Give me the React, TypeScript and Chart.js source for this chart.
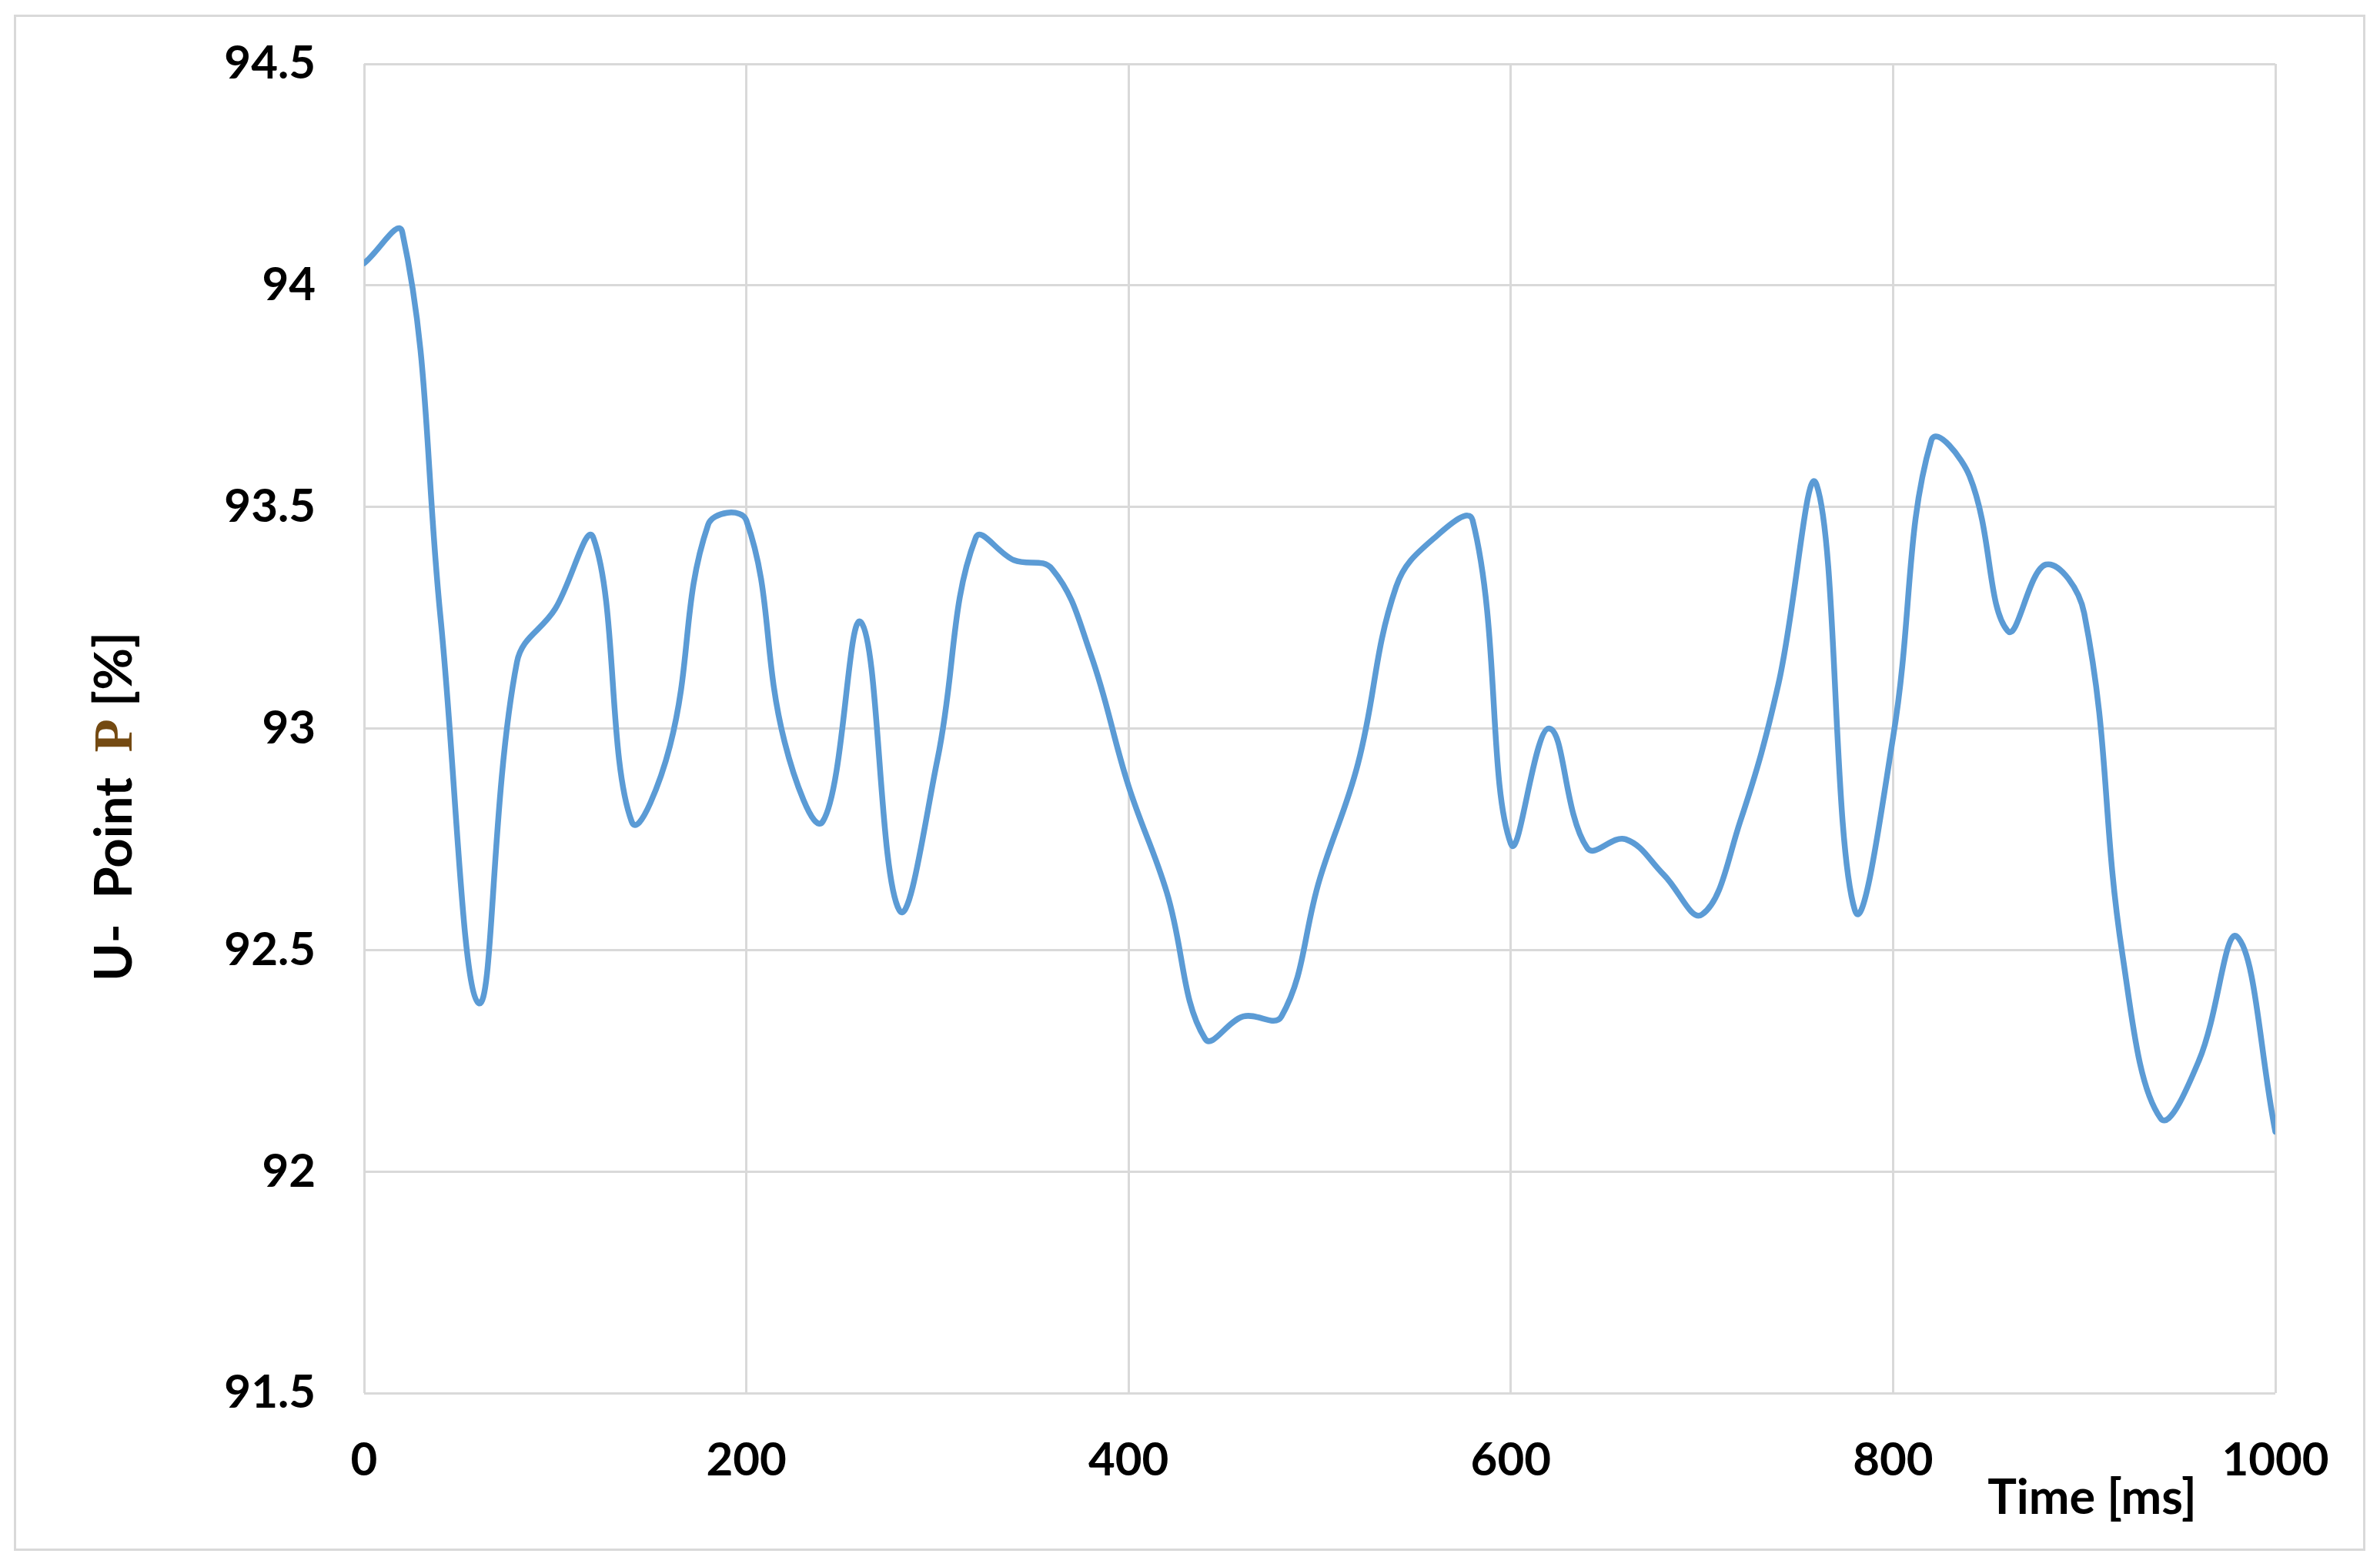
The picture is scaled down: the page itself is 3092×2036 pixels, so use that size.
import React, { useEffect, useRef } from 'react';
import { Chart, registerables } from 'chart.js';

Chart.register(...registerables);

// ---- data ----
const timeMs = [
  0, 20, 40, 60, 80, 100, 120, 140, 160, 180,
  200, 220, 240, 260, 280, 300, 320, 340, 360, 380,
  400, 420, 440, 460, 480, 500, 520, 540, 560, 580,
  600, 620, 640, 660, 680, 700, 720, 740, 760, 780,
  800, 820, 840, 860, 880, 900, 920, 940, 960, 980, 1000,
];
const uPoint = [
  94.05, 94.12, 93.25, 92.38, 93.15, 93.27, 93.43, 92.79, 92.96, 93.46,
  93.47, 92.97, 92.79, 93.24, 92.59, 92.93, 93.43, 93.38, 93.36, 93.17,
  92.87, 92.63, 92.30, 92.35, 92.35, 92.66, 92.92, 93.32, 93.43, 93.47,
  92.74, 93.00, 92.73, 92.75, 92.67, 92.58, 92.79, 93.10, 93.55, 92.59,
  92.98, 93.65, 93.57, 93.22, 93.37, 93.26, 92.49, 92.12, 92.25, 92.53, 92.09,
];
const xTickValues = [0, 200, 400, 600, 800, 1000];
const yTickValues = [91.5, 92, 92.5, 93, 93.5, 94, 94.5];
const yTitleStart = 'U-  Point  ';
const yTitleSymbol = 'P';
const yTitleEnd = ' [%]';
const xTitle = 'Time [ms]';

const W = 3092;
const H = 2036;
const GRID = '#d9d9d9';
const LINE = '#5b9bd5';
const FONT = 'Lato';

const decor = {
  id: 'decor',
  beforeDraw(chart: any) {
    const ctx = chart.ctx;
    ctx.save();
    ctx.fillStyle = '#ffffff';
    ctx.fillRect(0, 0, chart.width, chart.height);
    ctx.strokeStyle = GRID;
    ctx.lineWidth = 3;
    ctx.strokeRect(19.5, 20.5, 3052, 1993);
    ctx.restore();
  },
  afterDraw(chart: any) {
    const ctx = chart.ctx;
    const a = chart.chartArea;
    ctx.save();
    // y-axis title (rotated)
    const sans = `bold 67px ${FONT}`;
    const serif = `bold 71px "Liberation Serif"`;
    ctx.font = sans;
    const w1 = ctx.measureText(yTitleStart).width;
    const w3 = ctx.measureText(yTitleEnd).width;
    ctx.font = serif;
    const w2 = ctx.measureText(yTitleSymbol).width;
    const total = w1 + w2 + w3;
    ctx.translate(a.left - 302, a.top + 965);
    ctx.rotate(-Math.PI / 2);
    ctx.textBaseline = 'alphabetic';
    ctx.textAlign = 'left';
    let x = -total / 2;
    ctx.font = sans;
    ctx.fillStyle = '#000000';
    ctx.fillText(yTitleStart, x, 0);
    x += w1;
    ctx.font = serif;
    ctx.fillStyle = '#744a12';
    ctx.fillText(yTitleSymbol, x, 0);
    x += w2;
    ctx.font = sans;
    ctx.fillStyle = '#000000';
    ctx.fillText(yTitleEnd, x, 0);
    ctx.restore();

    // x-axis title
    ctx.save();
    ctx.font = `bold 63px ${FONT}`;
    ctx.fillStyle = '#000000';
    ctx.textAlign = 'center';
    ctx.textBaseline = 'alphabetic';
    ctx.fillText(xTitle, a.left + 2245, a.bottom + 157);
    ctx.restore();
  },
};

export default function App() {
  const ref = useRef<HTMLCanvasElement>(null);

  useEffect(() => {
    if (!ref.current) return;
    const chart = new Chart(ref.current, {
      type: 'line',
      data: {
        datasets: [
          {
            label: 'U-Point P',
            data: timeMs.map((t, i) => ({ x: t, y: uPoint[i] })),
            borderColor: LINE,
            borderWidth: 7.5,
            pointRadius: 0,
            fill: false,
            tension: 0.4,
            borderCapStyle: 'round',
            borderJoinStyle: 'round',
          },
        ],
      },
      options: {
        animation: false,
        responsive: true,
        maintainAspectRatio: false,
        devicePixelRatio: 1,
        layout: { padding: { left: 0, top: 83, right: 136, bottom: 76 } },
        plugins: {
          legend: { display: false },
          tooltip: { enabled: false },
          title: { display: false },
        },
        scales: {
          x: {
            type: 'linear',
            min: 0,
            max: 1000,
            afterFit: (s: any) => { s.height = 150; },
            afterBuildTicks: (s: any) => { s.ticks = xTickValues.map((v) => ({ value: v })); },
            ticks: {
              callback: (v: any) => String(v),
              font: { family: FONT, size: 60, weight: 'bold' },
              color: '#000000',
              padding: 52,
              maxRotation: 0,
              autoSkip: false,
            },
            grid: { color: GRID, lineWidth: 3, drawTicks: false },
            border: { display: false },
          },
          y: {
            type: 'linear',
            min: 91.5,
            max: 94.5,
            afterFit: (s: any) => {
              s.width = 473;
              s.paddingTop = 0;
              s.paddingBottom = 0;
            },
            afterBuildTicks: (s: any) => { s.ticks = yTickValues.map((v) => ({ value: v })); },
            ticks: {
              callback: (v: any) => String(v),
              font: { family: FONT, size: 60, weight: 'bold' },
              color: '#000000',
              padding: 63,
              autoSkip: false,
            },
            grid: { color: GRID, lineWidth: 3, drawTicks: false },
            border: { display: false },
          },
        },
      },
      plugins: [decor],
    } as any);
    return () => chart.destroy();
  }, []);

  return (
    <div style={{ position: 'fixed', left: 0, top: 0, width: W, height: H, background: '#fff' }}>
      <canvas ref={ref} />
    </div>
  );
}
